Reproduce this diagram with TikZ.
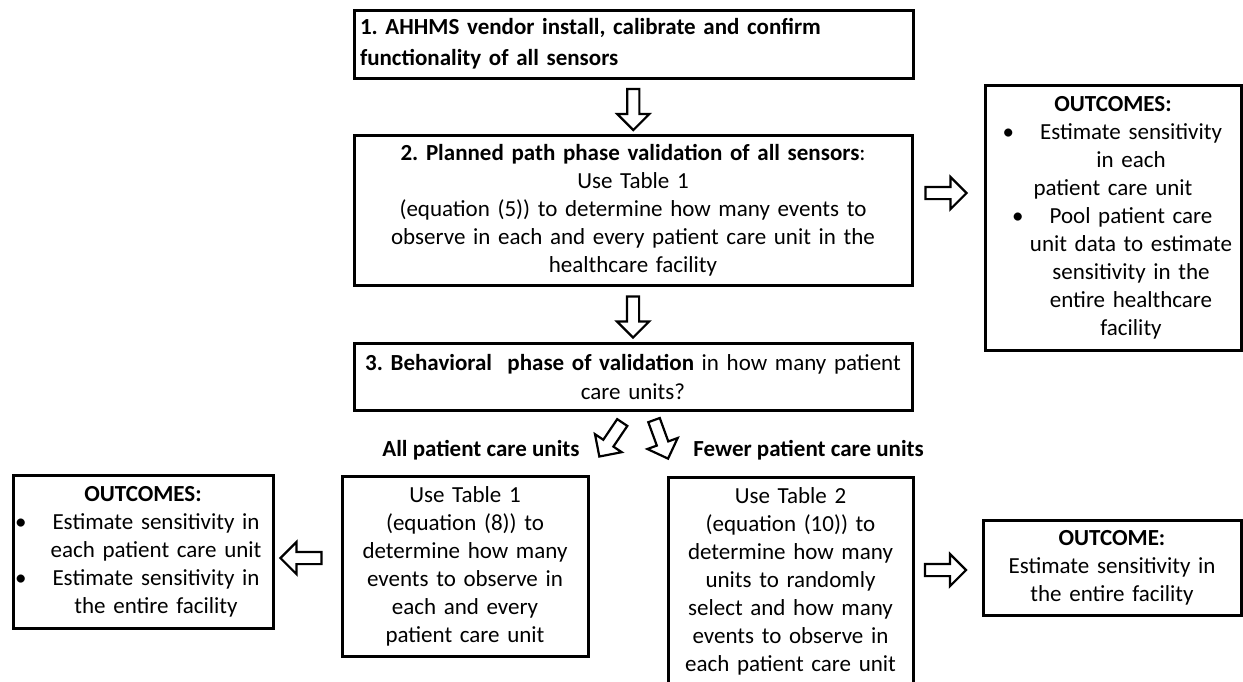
\documentclass[tikz,border=0pt]{standalone}
\usepackage{fontspec}
\setmainfont{Carlito}
\frenchspacing
\usetikzlibrary{shapes.arrows,positioning,calc}

\begin{document}
\begin{tikzpicture}[
x=0.5pt,
y=-0.5pt,
box/.style={
  draw,
  line width=1.5pt,
  align=center,
  inner xsep=3pt,
  inner ysep=0pt,
  font=\fontsize{11.5}{14}\selectfont
  },
hollow/.style={
  single arrow,
  draw,
  line width=1.1pt,
  fill=white,
  inner sep=0pt,
  inner ysep=2.5pt,
  single arrow head extend=5pt,
  minimum height=20.5pt
  },
tag/.style={
  font=\fontsize{11.5}{14}\selectfont\bfseries,
  inner sep=0pt
  }
]
\useasboundingbox (0,0) rectangle (1243,681);

% main column
\node[box, text width=273.5pt, minimum height=34pt, align=left,
  font=\fontsize{11.5}{15.5}\selectfont\bfseries] (step1) at (633.5,44)
  {1. AHHMS vendor install, calibrate and confirm\\functionality of all sensors};
\node[box, text width=273pt, minimum height=75pt] (step2) at (633,210)
  {\textbf{2. Planned path phase validation of all sensors}:\\Use Table 1\\
   (equation (5)) to determine how many events to\\
   observe in each and every patient care unit in the\\healthcare facility};
\node[box, text width=273pt, minimum height=33.5pt,
  font=\fontsize{11.5}{14.5}\selectfont] (step3) at (633,376.5)
  {\textbf{3. Behavioral\ \ phase of validation} in how many patient\\care units?};

% the two branches
\node[box, text width=117pt, minimum height=90pt] (tab1) at (465,566)
  {Use Table 1\\(equation (8)) to\\determine how many\\events to observe in\\
   each and every\\patient care unit};
\node[box, text width=116.5pt, minimum height=104.5pt] (tab2) at (790.5,581.5)
  {Use Table 2\\(equation (10)) to\\determine how many\\units to randomly\\
   select and how many\\events to observe in\\each patient care unit};

% outcomes
\node[box, text width=122pt, minimum height=132.5pt] (outA) at (1113,217.5)
  {\textbf{OUTCOMES:}\\
   \hspace*{18pt}\llap{\textbullet\hspace{13pt}}Estimate sensitivity\\
   \hspace*{18pt}in each\\
   patient care unit\\
   \hspace*{18pt}\llap{\textbullet\hspace{13pt}}Pool patient care\\
   \hspace*{18pt}unit data to estimate\\
   \hspace*{18pt}sensitivity in the\\
   \hspace*{18pt}entire healthcare\\
   \hspace*{18pt}facility};
\node[box, text width=124pt, minimum height=76.5pt] (outB) at (143,551.5)
  {\textbf{OUTCOMES:}\\
   \hspace*{13pt}\llap{\textbullet\hspace{13pt}}Estimate sensitivity in\\
   \hspace*{13pt}each patient care unit\\
   \hspace*{13pt}\llap{\textbullet\hspace{13pt}}Estimate sensitivity in\\
   \hspace*{13pt}the entire facility};
\node[box, text width=123pt, minimum height=47.5pt] (outC) at (1112,567.5)
  {\textbf{OUTCOME:}\\Estimate sensitivity in\\the entire facility};

% branch labels
\node[tag, anchor=east] (allunits) at (580,450) {All patient care units};
\node[tag, anchor=west] (fewunits) at (693,450) {Fewer patient care units};

% block arrows
\node[hollow, rotate=270] (down1) at ($(step1.south)!.5!(step2.north)$) {};
\node[hollow, rotate=270] (down2) at ($(step2.south)!.5!(step3.north)$) {};
\foreach \pos/\ang [count=\i] in {{(943,193)}/0, {(612.5,437)}/236,
    {(660,436.5)}/290, {(304,558)}/180, {(942.5,570)}/0}
  \node[hollow, rotate=\ang] (ar\i) at \pos {};
\end{tikzpicture}
\end{document}
